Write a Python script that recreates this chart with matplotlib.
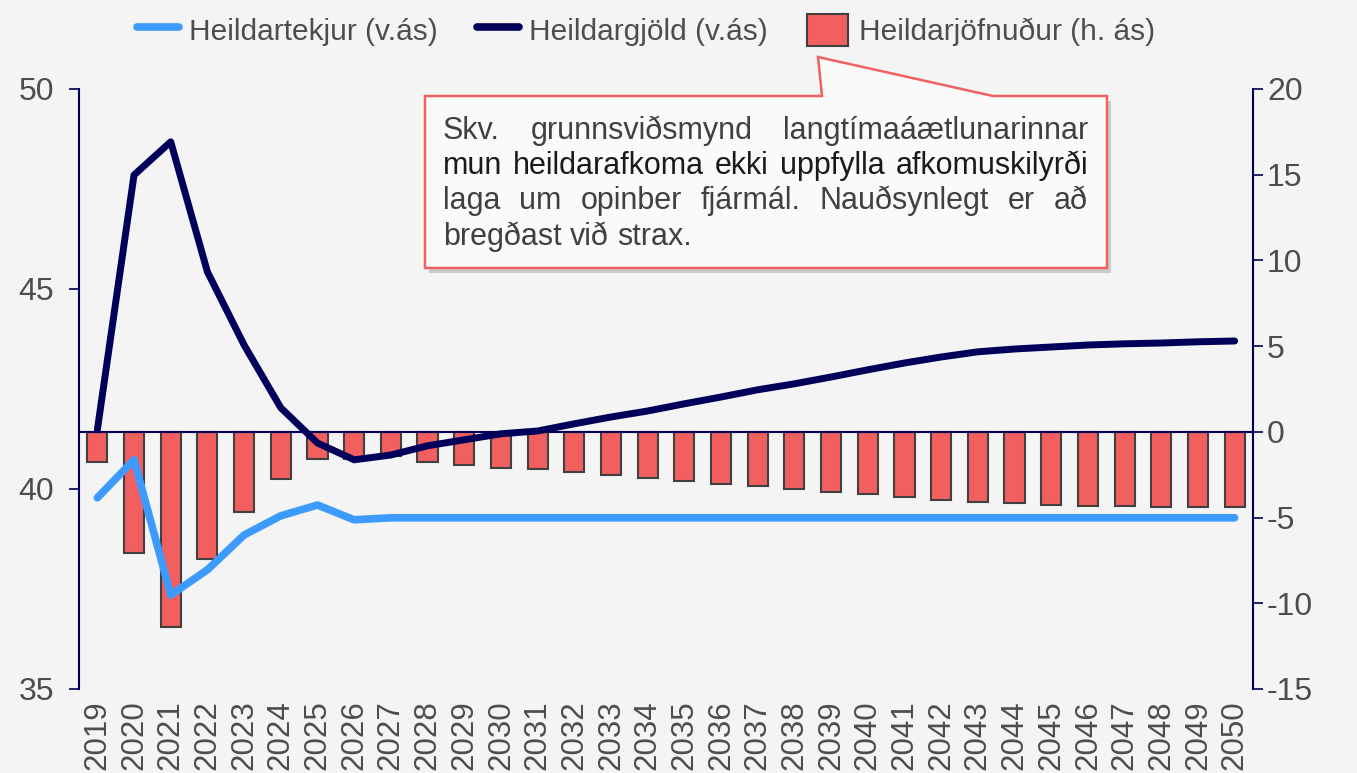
import matplotlib.pyplot as plt
from matplotlib.patches import Polygon, Patch
from matplotlib.lines import Line2D

plt.rcParams['font.family'] = ['Liberation Sans', 'DejaVu Sans']
plt.rcParams['axes.unicode_minus'] = False

years = list(range(2019, 2051))
tekjur = [39.78, 40.73, 37.35, 37.98, 38.85, 39.33, 39.6, 39.23, 39.28, 39.28,
          39.28, 39.28, 39.28, 39.28, 39.28, 39.28, 39.28, 39.28, 39.28, 39.28,
          39.28, 39.28, 39.28, 39.28, 39.28, 39.28, 39.28, 39.28, 39.28, 39.28,
          39.28, 39.28]
gjold = [41.48, 47.85, 48.68, 45.43, 43.6, 42.03, 41.15, 40.73, 40.85, 41.08,
         41.23, 41.38, 41.45, 41.63, 41.8, 41.95, 42.13, 42.3, 42.48, 42.63,
         42.8, 42.98, 43.15, 43.3, 43.43, 43.5, 43.55, 43.6, 43.63, 43.65,
         43.68, 43.7]
jofnudur = [-1.75, -7.06, -11.38, -7.4, -4.67, -2.74, -1.58, -1.6, -1.4, -1.75,
            -1.93, -2.1, -2.16, -2.33, -2.5, -2.68, -2.86, -3.03, -3.15, -3.33,
            -3.5, -3.62, -3.8, -3.97, -4.08, -4.14, -4.26, -4.32, -4.32, -4.38,
            -4.38, -4.38]

navy = '#00005a'
blue = '#3d9bff'
red = '#f25f5f'
grey = '#4d4d4d'
W, H = 1357, 773

fig = plt.figure(figsize=(W / 100, H / 100), dpi=100, facecolor='#f4f4f4')
ax1 = fig.add_axes([79 / W, 1 - 689 / H, (1253 - 79) / W, 600 / H])
ax2 = ax1.twinx()
ax1.set_zorder(ax2.get_zorder() + 1)
ax1.patch.set_visible(False)
ax2.set_facecolor('#f4f4f4')

x = list(range(len(years)))
ax2.bar(x, jofnudur, width=0.55, color=red, edgecolor='#404040', linewidth=1.5)
ax2.axhline(0, color=navy, lw=1.5)
ax1.plot(x, gjold, color=navy, lw=5, solid_capstyle='round', solid_joinstyle='round')
ax1.plot(x, tekjur, color=blue, lw=5.5, solid_capstyle='round', solid_joinstyle='round')

ax1.set_xlim(-0.5, len(years) - 0.5)
ax1.set_ylim(35, 50)
ax2.set_ylim(-15, 20)
ax1.set_yticks([35, 40, 45, 50])
ax2.set_yticks(range(-15, 21, 5))
ax1.set_xticks(x)
ax1.set_xticklabels([str(y) for y in years], rotation=90, fontsize=22.5, color=grey)
ax1.tick_params(axis='x', length=0, pad=8)

for a in (ax1, ax2):
    for s in ('top', 'bottom'):
        a.spines[s].set_visible(False)
    for s in ('left', 'right'):
        a.spines[s].set_color(navy)
        a.spines[s].set_linewidth(1.5)
ax1.spines['right'].set_visible(False)
ax2.spines['left'].set_visible(False)
ax1.tick_params(axis='y', length=7, width=1.2, color=navy, labelsize=23, labelcolor=grey, pad=11)
ax2.tick_params(axis='y', length=7, width=1.2, color=navy, labelsize=23, labelcolor=grey, pad=3)

handles = [Line2D([], [], color=blue, lw=5.5, solid_capstyle='round'),
           Line2D([], [], color=navy, lw=5.5, solid_capstyle='round'),
           Patch(facecolor=red, edgecolor='#404040', linewidth=1.5)]
labels = ['Heildartekjur (v.ás)', 'Heildargjöld (v.ás)', 'Heildarjöfnuður (h. ás)']
leg = fig.legend(handles, labels, loc='center', bbox_to_anchor=(646 / W, 1 - 30 / H),
                 ncol=3, frameon=False, fontsize=21.5, handlelength=1.4, handleheight=1.3,
                 handletextpad=0.35, columnspacing=1.3, labelcolor=grey)


def px(xp, yp):
    return (xp / W, 1 - yp / H)


# callout box
box = [(425, 96), (822, 96), (818, 57), (993, 96), (1107, 96), (1107, 268), (425, 268)]
shadow = Polygon([px(a + 4, b + 5) for a, b in box], closed=True, transform=fig.transFigure,
                 facecolor='#9a9a9a', edgecolor='none', alpha=0.45)
callout = Polygon([px(a, b) for a, b in box], closed=True, transform=fig.transFigure,
                  facecolor='#fafafa', edgecolor='#f06262', linewidth=1.8)
fig.patches.extend([shadow, callout])

renderer = fig.canvas.get_renderer()
fs = 22


def justify(line, y, color, full=True):
    words = line.split()
    xl, xr = 443, 1088
    ts = [fig.text(0, 1 - y / H, w, fontsize=fs, color=color, va='center', ha='left')
          for w in words]
    widths = [t.get_window_extent(renderer).width for t in ts]
    if full and len(words) > 1:
        gap = (xr - xl - sum(widths)) / (len(words) - 1)
    else:
        sp = fig.text(0, 0, 'a a', fontsize=fs)
        sp2 = fig.text(0, 0, 'aa', fontsize=fs)
        gap = sp.get_window_extent(renderer).width - sp2.get_window_extent(renderer).width
        sp.remove()
        sp2.remove()
    pos = xl
    for t, w in zip(ts, widths):
        t.set_x(pos / W)
        pos += w + gap


justify('Skv. grunnsviðsmynd langtímaáætlunarinnar', 131, '#404040')
justify('mun heildarafkoma ekki uppfylla afkomuskilyrði', 166, '#1a1a1a')
justify('laga um opinber fjármál. Nauðsynlegt er að', 201, '#404040')
justify('bregðast við strax.', 237, '#404040', full=False)

fig.savefig('out.png', dpi=100, facecolor=fig.get_facecolor())
